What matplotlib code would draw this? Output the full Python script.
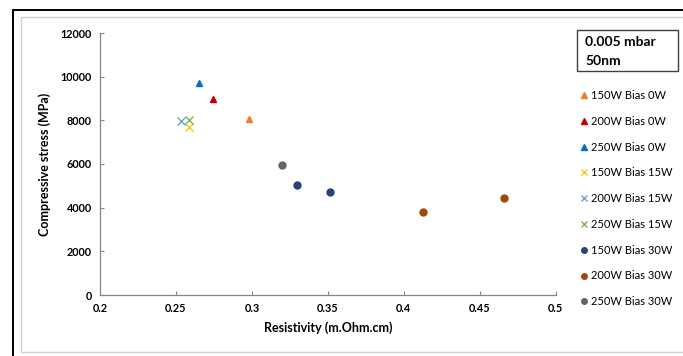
import matplotlib
matplotlib.use("Agg")
import matplotlib.pyplot as plt
from matplotlib.patches import Rectangle
from matplotlib.lines import Line2D

plt.rcParams['font.family'] = ['Lato', 'DejaVu Sans']

# resistivity (m.Ohm.cm) and compressive stress (MPa) per deposition condition
labels = ["150W Bias 0W", "200W Bias 0W", "250W Bias 0W",
          "150W Bias 15W", "200W Bias 15W", "250W Bias 15W",
          "150W Bias 30W", "200W Bias 30W", "250W Bias 30W"]
resistivity = [[0.2983], [0.2744], [0.265],
               [0.2588], [0.2533], [0.2584],
               [0.330, 0.3516], [0.4128, 0.4657], [0.3198]]
stress = [[8076], [8992], [9725],
          [7710], [7957], [8017],
          [5039, 4704], [3816, 4457], [5941]]
colors = ["#ED7D31", "#C00000", "#0070C0",
          "#FFC000", "#5B9BD5", "#70AD47",
          "#264478", "#9E480E", "#636363"]
markers = ["^", "^", "^", "x", "x", "x", "o", "o", "o"]

W, H = 683, 356
fig = plt.figure(figsize=(W / 100, H / 100), dpi=100)
ax = fig.add_axes([100 / W, 1 - 295 / H, 455.7 / W, 262 / H])

for lab, xs, ys, c, m in zip(labels, resistivity, stress, colors, markers):
    if m == "x":
        ax.plot(xs, ys, ls="none", marker=m, ms=5.5, mew=0.9, color=c, label=lab)
    else:
        ax.plot(xs, ys, ls="none", marker=m, ms=5, color=c, label=lab)

ax.set_xlim(0.2, 0.5)
ax.set_ylim(0, 12000)
ax.set_xticks([0.2, 0.25, 0.3, 0.35, 0.4, 0.45, 0.5])
ax.set_xticklabels(["0.2", "0.25", "0.3", "0.35", "0.4", "0.45", "0.5"])
ax.set_yticks(range(0, 12001, 2000))
for s in ["top", "right"]:
    ax.spines[s].set_visible(False)
for s in ["left", "bottom"]:
    ax.spines[s].set_color("#868686")
    ax.spines[s].set_linewidth(0.9)
ax.tick_params(direction="in", length=3, color="#868686", labelsize=7.8, pad=6)
for t in ax.get_xticklabels() + ax.get_yticklabels():
    t.set_fontweight("bold")
ax.set_xlabel("Resistivity (m.Ohm.cm)", fontsize=9, fontweight="bold", labelpad=5)
ax.set_ylabel("Compressive stress (MPa)", fontsize=9, fontweight="bold", labelpad=7)

# chart frames
fig.add_artist(Rectangle((21 / W, 1 - 352 / H), 700 / W, 335 / H, transform=fig.transFigure,
                         fill=False, ec="#D0D0D0", lw=1))
fig.add_artist(Line2D([12.5 / W, 12.5 / W], [0, 1 - 10 / H], transform=fig.transFigure,
                      color="black", lw=1.4))
fig.add_artist(Line2D([12.5 / W, 1], [1 - 10 / H, 1 - 10 / H], transform=fig.transFigure,
                      color="black", lw=1.4))

# condition box
fig.add_artist(Rectangle((577 / W, 1 - 71 / H), 101 / W, 41 / H, transform=fig.transFigure,
                         fill=False, ec="#404040", lw=1))
fig.text(585 / W, 1 - 42 / H, "0.005 mbar", fontsize=10, fontweight="bold", va="center")
fig.text(585 / W, 1 - 61 / H, "50nm", fontsize=10, fontweight="bold", va="center")

handles, labs = ax.get_legend_handles_labels()
fig.legend(handles, labs, loc="upper left", bbox_to_anchor=(580 / W, 1 - 90 / H),
           frameon=False, fontsize=8, handlelength=0.7, handletextpad=0.25,
           labelspacing=1.33, borderaxespad=0, borderpad=0, markerscale=0.8)

fig.savefig("out.png", dpi=100)
